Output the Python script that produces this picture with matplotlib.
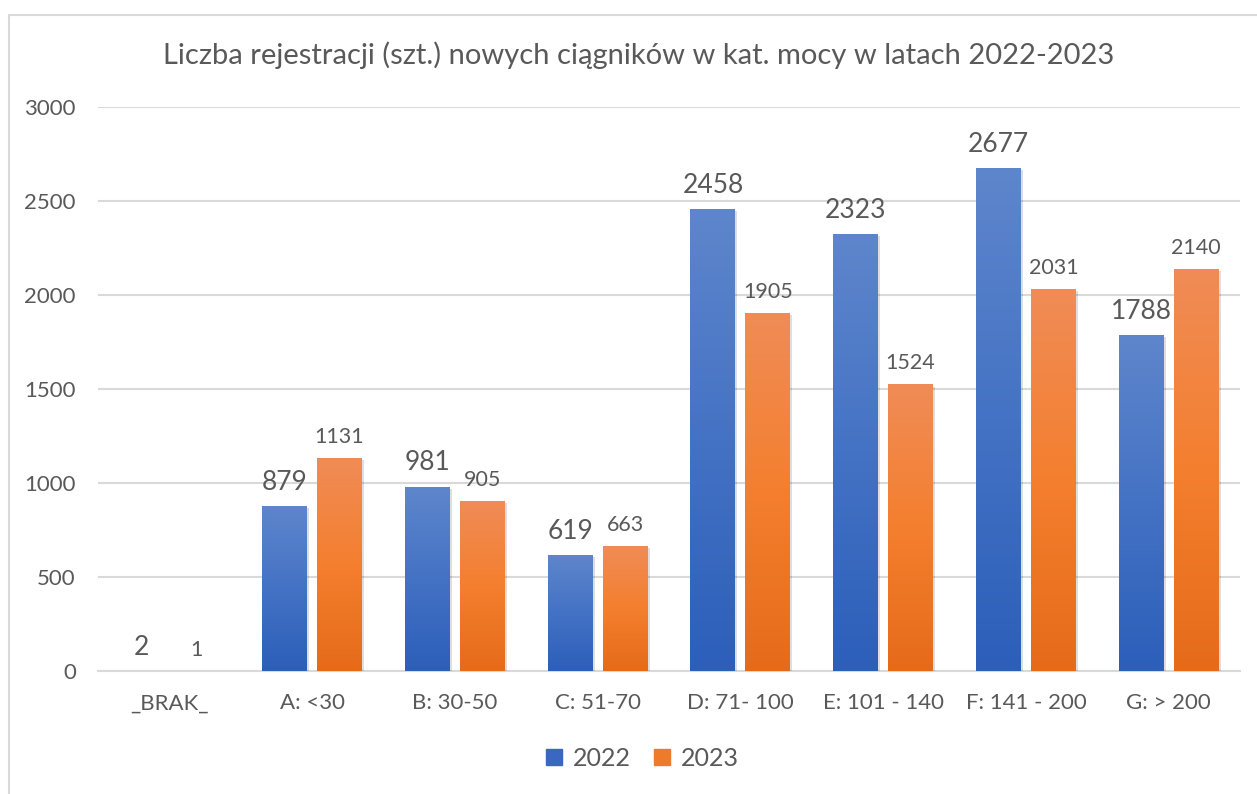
import numpy as np
import matplotlib.pyplot as plt
import matplotlib.patches as mpatches
import matplotlib.patheffects as pe
from matplotlib.colors import LinearSegmentedColormap

plt.rcParams['font.family'] = ['Lato', 'DejaVu Sans']

# dane
kategorie = ['_BRAK_', 'A: <30', 'B: 30-50', 'C: 51-70', 'D: 71- 100',
             'E: 101 - 140', 'F: 141 - 200', 'G: > 200']
lata = ['2022', '2023']
rej_2022 = [2, 879, 981, 619, 2458, 2323, 2677, 1788]
rej_2023 = [1, 1131, 905, 663, 1905, 1524, 2031, 2140]

szary = '#595959'
grad_niebieski = LinearSegmentedColormap.from_list('nb', ['#2c5fba', '#4472c4', '#5e86cc'])
grad_pomaranczowy = LinearSegmentedColormap.from_list('pm', ['#e56b1a', '#f47f2e', '#f08c57'])

fig = plt.figure(figsize=(12.57, 7.94), dpi=100)
fig.patches.append(mpatches.Rectangle((9 / 1257, -0.1), 1.2, 1.1 - 15 / 794,
                                      transform=fig.transFigure, fill=False,
                                      edgecolor='#d9d9d9', lw=1.5))
ax = fig.add_axes([98 / 1257, 123 / 794, 1142 / 1257, 564 / 794])

x = np.arange(len(kategorie))
szer = 0.315
przes = 0.1925

cien = [pe.SimplePatchShadow(offset=(1.5, -1.5), shadow_rgbFace='#000000', alpha=0.13), pe.Normal()]
b1 = ax.bar(x - przes, rej_2022, szer, color='#3a68c0', zorder=3, path_effects=cien)
b2 = ax.bar(x + przes, rej_2023, szer, color='#ef7a2a', zorder=3, path_effects=cien)

# gradient na słupkach
grad = np.linspace(0, 1, 256).reshape(-1, 1)
for bars, cmap in ((b1, grad_niebieski), (b2, grad_pomaranczowy)):
    for p in bars:
        x0, w, h = p.get_x(), p.get_width(), p.get_height()
        im = ax.imshow(grad, extent=[x0, x0 + w, 0, h], origin='lower',
                       aspect='auto', cmap=cmap, zorder=4)
        im.set_clip_path(p)

for p, v in zip(b1, rej_2022):
    ax.annotate(str(v), (p.get_x() + p.get_width() / 2, v), xytext=(0, 8),
                textcoords='offset points', ha='center', va='bottom',
                fontsize=19, color=szary)
for p, v in zip(b2, rej_2023):
    ax.annotate(str(v), (p.get_x() + p.get_width() / 2, v), xytext=(0, 8),
                textcoords='offset points', ha='center', va='bottom',
                fontsize=15.5, color=szary)

ax.set_xlim(-0.5, len(kategorie) - 0.5)
ax.set_ylim(0, 3000)
ax.set_yticks(range(0, 3001, 500))
ax.set_xticks(x)
ax.set_xticklabels(kategorie)
ax.tick_params(axis='both', length=0, labelsize=16, labelcolor=szary)
ax.tick_params(axis='y', pad=16)
ax.tick_params(axis='x', pad=16)
ax.grid(axis='y', color='#d9d9d9', lw=1.5, zorder=0)
ax.set_axisbelow(True)
for s in ['top', 'right', 'left']:
    ax.spines[s].set_visible(False)
ax.spines['bottom'].set_color('#d9d9d9')
ax.spines['bottom'].set_linewidth(1.5)

fig.text(0.508, 0.93, 'Liczba rejestracji (szt.) nowych ciągników w kat. mocy w latach 2022-2023',
         ha='center', va='center', fontsize=21, color=szary)

uchwyty = [mpatches.Patch(color='#3a68c0'), mpatches.Patch(color='#ef7a2a')]
fig.legend(uchwyty, lata, loc='center', bbox_to_anchor=(0.511, 0.045), ncol=2,
           frameon=False, fontsize=18, labelcolor=szary, handlelength=0.65,
           handleheight=0.65, columnspacing=0.95, handletextpad=0.4)

fig.savefig('out.png', dpi=100)
